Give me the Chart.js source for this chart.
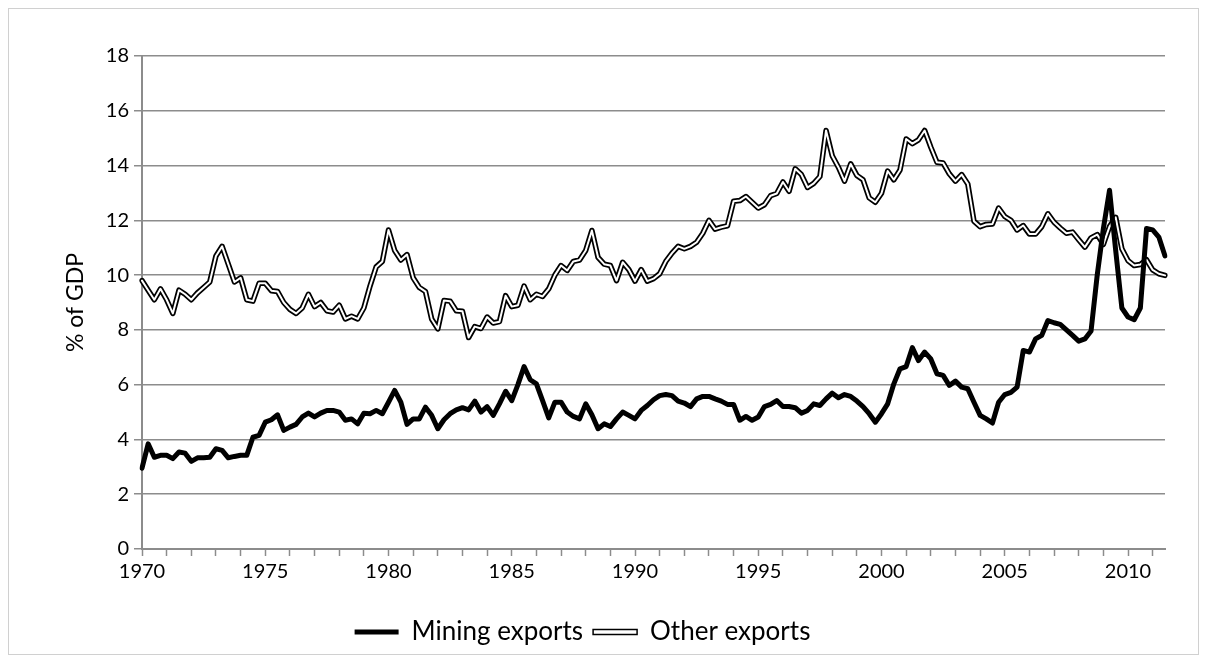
<!DOCTYPE html>
<html>
<head>
<meta charset="utf-8">
<script src="https://cdn.jsdelivr.net/npm/chart.js@4.4.0/dist/chart.umd.min.js"></script>
<style>
  html, body { margin: 0; padding: 0; background: #fff; }
  #wrap { position: relative; width: 1208px; height: 662px; overflow: hidden; }
  #frame { position: absolute; left: 8px; top: 8px; width: 1191px; height: 647px; border: 1px solid #d0d0d0; box-sizing: border-box; }
  #chart { position: absolute; left: 0; top: 0; }
</style>
</head>
<body>
<div id="wrap">
  <div id="frame"></div>
  <canvas id="chart" width="1208" height="662"></canvas>
</div>
<script>
  // quarterly, 1970 Q1 to 2011 Q3, % of GDP
  const firstYear = 1970;
  const lastYear = 2011;
  const lastQuarter = 3;

  const miningExports = [
    // 1970
    2.95, 3.84, 3.35, 3.42,
    // 1971
    3.42, 3.3, 3.54, 3.5,
    // 1972
    3.2, 3.33, 3.33, 3.35,
    // 1973
    3.66, 3.6, 3.33, 3.38,
    // 1974
    3.42, 3.42, 4.08, 4.15,
    // 1975
    4.63, 4.72, 4.9, 4.33,
    // 1976
    4.45, 4.55, 4.82, 4.96,
    // 1977
    4.82, 4.96, 5.06, 5.06,
    // 1978
    5.0, 4.7, 4.75, 4.57,
    // 1979
    4.96, 4.94, 5.06, 4.94,
    // 1980
    5.36, 5.79, 5.36, 4.55,
    // 1981
    4.75, 4.75, 5.18, 4.88,
    // 1982
    4.39, 4.72, 4.94, 5.08,
    // 1983
    5.16, 5.08, 5.4, 5.0,
    // 1984
    5.2, 4.88, 5.3, 5.76,
    // 1985
    5.42, 6.0, 6.66, 6.18,
    // 1986
    6.03, 5.42, 4.79, 5.36,
    // 1987
    5.36, 5.0, 4.84, 4.75,
    // 1988
    5.3, 4.9, 4.39, 4.57,
    // 1989
    4.47, 4.75, 5.0, 4.88,
    // 1990
    4.75, 5.06, 5.24, 5.45,
    // 1991
    5.6, 5.64, 5.6, 5.4,
    // 1992
    5.33, 5.2, 5.48, 5.57,
    // 1993
    5.57, 5.48, 5.4, 5.28,
    // 1994
    5.28, 4.7, 4.84, 4.7,
    // 1995
    4.82, 5.2, 5.28, 5.42,
    // 1996
    5.2, 5.2, 5.16, 4.96,
    // 1997
    5.06, 5.3, 5.24, 5.48,
    // 1998
    5.69, 5.52, 5.64, 5.57,
    // 1999
    5.4, 5.2, 4.94, 4.63,
    // 2000
    4.94, 5.3, 6.03, 6.58,
    // 2001
    6.66, 7.35, 6.88, 7.19,
    // 2002
    6.94, 6.4, 6.34, 5.97,
    // 2003
    6.13, 5.91, 5.85, 5.36,
    // 2004
    4.88, 4.75, 4.6, 5.36,
    // 2005
    5.64, 5.72, 5.91, 7.25,
    // 2006
    7.19, 7.67, 7.8, 8.34,
    // 2007
    8.26, 8.2, 8.0, 7.8,
    // 2008
    7.59, 7.67, 7.96, 10.0,
    // 2009
    11.7, 13.1, 10.9, 8.8,
    // 2010
    8.47, 8.37, 8.8, 11.7,
    // 2011
    11.65, 11.39, 10.7
  ];

  const otherExports = [
    // 1970
    9.8, 9.45, 9.1, 9.5,
    // 1971
    9.1, 8.6, 9.45, 9.3,
    // 1972
    9.1, 9.35, 9.55, 9.75,
    // 1973
    10.7, 11.05, 10.4, 9.75,
    // 1974
    9.9, 9.1, 9.05, 9.7,
    // 1975
    9.7, 9.43, 9.4, 9.0,
    // 1976
    8.75, 8.6, 8.8, 9.3,
    // 1977
    8.85, 9.0, 8.7, 8.65,
    // 1978
    8.9, 8.4, 8.5, 8.4,
    // 1979
    8.8, 9.6, 10.3, 10.5,
    // 1980
    11.65, 10.9, 10.55, 10.75,
    // 1981
    9.9, 9.55, 9.4, 8.4,
    // 1982
    8.04, 9.07, 9.05, 8.7,
    // 1983
    8.68, 7.72, 8.12, 8.05,
    // 1984
    8.47, 8.25, 8.3, 9.25,
    // 1985
    8.85, 8.9, 9.6, 9.1,
    // 1986
    9.3, 9.22, 9.5, 10.0,
    // 1987
    10.35, 10.17, 10.5, 10.55,
    // 1988
    10.9, 11.63, 10.65, 10.4,
    // 1989
    10.35, 9.8, 10.47, 10.2,
    // 1990
    9.78, 10.2, 9.78, 9.87,
    // 1991
    10.05, 10.5, 10.8, 11.05,
    // 1992
    10.96, 11.05, 11.2, 11.53,
    // 1993
    12.0, 11.68, 11.75, 11.8,
    // 1994
    12.7, 12.72, 12.87, 12.66,
    // 1995
    12.45, 12.57, 12.9, 12.98,
    // 1996
    13.4, 13.06, 13.88, 13.67,
    // 1997
    13.2, 13.35, 13.6, 15.28,
    // 1998
    14.36, 13.94, 13.43, 14.06,
    // 1999
    13.64, 13.48, 12.82, 12.66,
    // 2000
    12.99, 13.8, 13.48, 13.84,
    // 2001
    14.97, 14.8, 14.94, 15.28,
    // 2002
    14.67, 14.12, 14.09, 13.7,
    // 2003
    13.43, 13.67, 13.33, 11.97,
    // 2004
    11.77, 11.85, 11.87, 12.45,
    // 2005
    12.14, 12.0, 11.65, 11.81,
    // 2006
    11.5, 11.5, 11.77, 12.24,
    // 2007
    11.93, 11.72, 11.53, 11.57,
    // 2008
    11.29, 11.02, 11.36, 11.48,
    // 2009
    11.12, 11.77, 12.11, 10.96,
    // 2010
    10.53, 10.35, 10.39, 10.56,
    // 2011
    10.19, 10.05, 9.99
  ];

  const quarterLabels = [];
  for (let y = firstYear; y <= lastYear; y++) {
    for (let q = 1; q <= 4; q++) {
      if (y === lastYear && q > lastQuarter) break;
      quarterLabels.push(y + ' Q' + q);
    }
  }

  const yTicks = [0, 2, 4, 6, 8, 10, 12, 14, 16, 18];
  const labelEvery = 5; // years between x labels

  const fontName = 'Lato, "Open Sans", sans-serif';
  const axisGray = '#8c8c8c';

  const isYearStart = i => quarterLabels[i] && quarterLabels[i].endsWith('Q1');

  new Chart(document.getElementById('chart'), {
    type: 'line',
    data: {
      labels: quarterLabels,
      datasets: [
        {
          label: 'Mining exports',
          data: miningExports,
          borderColor: '#000',
          borderWidth: 5
        },
        {
          label: 'Other exports',
          data: otherExports,
          borderColor: '#fff',
          borderWidth: 2
        },
        {
          label: 'Other exports (edge)',
          data: otherExports,
          borderColor: '#000',
          borderWidth: 5.5
        }
      ]
    },
    options: {
      responsive: false,
      animation: false,
      layout: { padding: { left: 0, right: 43, top: 56, bottom: 7 } },
      elements: {
        point: { radius: 0 },
        line: { tension: 0, borderJoinStyle: 'round', borderCapStyle: 'round' }
      },
      plugins: {
        tooltip: { enabled: false },
        legend: {
          position: 'bottom',
          labels: {
            font: { family: fontName, size: 26 },
            color: '#000',
            boxWidth: 44,
            boxHeight: 5,
            padding: 10,
            generateLabels: () => [
              { text: 'Mining exports', fillStyle: '#000', strokeStyle: '#000', lineWidth: 0, hidden: false },
              { text: 'Other exports', fillStyle: '#fff', strokeStyle: '#000', lineWidth: 1.5, hidden: false }
            ]
          }
        }
      },
      scales: {
        x: {
          afterFit: s => { s.height = 60; },
          border: { color: axisGray, width: 2 },
          grid: {
            drawOnChartArea: false,
            drawTicks: true,
            tickLength: 7,
            tickWidth: 1.5,
            tickColor: c => isYearStart(c.index) ? axisGray : 'rgba(0,0,0,0)'
          },
          ticks: {
            autoSkip: false,
            maxRotation: 0,
            padding: 4,
            color: '#000',
            font: { family: fontName, size: 20 },
            callback: (v, i) => {
              const yr = parseInt(quarterLabels[i], 10);
              return isYearStart(i) && yr % labelEvery === 0 ? String(yr) : '';
            }
          }
        },
        y: {
          min: 0,
          max: 18,
          afterFit: s => { s.width = 142; },
          afterBuildTicks: s => { s.ticks = yTicks.map(v => ({ value: v })); },
          border: { color: axisGray, width: 2 },
          grid: { color: axisGray, lineWidth: 1.5, tickLength: 8 },
          ticks: {
            padding: 5,
            color: '#000',
            font: { family: fontName, size: 20 }
          },
          title: {
            display: true,
            text: '% of GDP',
            color: '#000',
            font: { family: fontName, size: 23 },
            padding: { top: 62, bottom: 0 }
          }
        }
      }
    }
  });
</script>
</body>
</html>
